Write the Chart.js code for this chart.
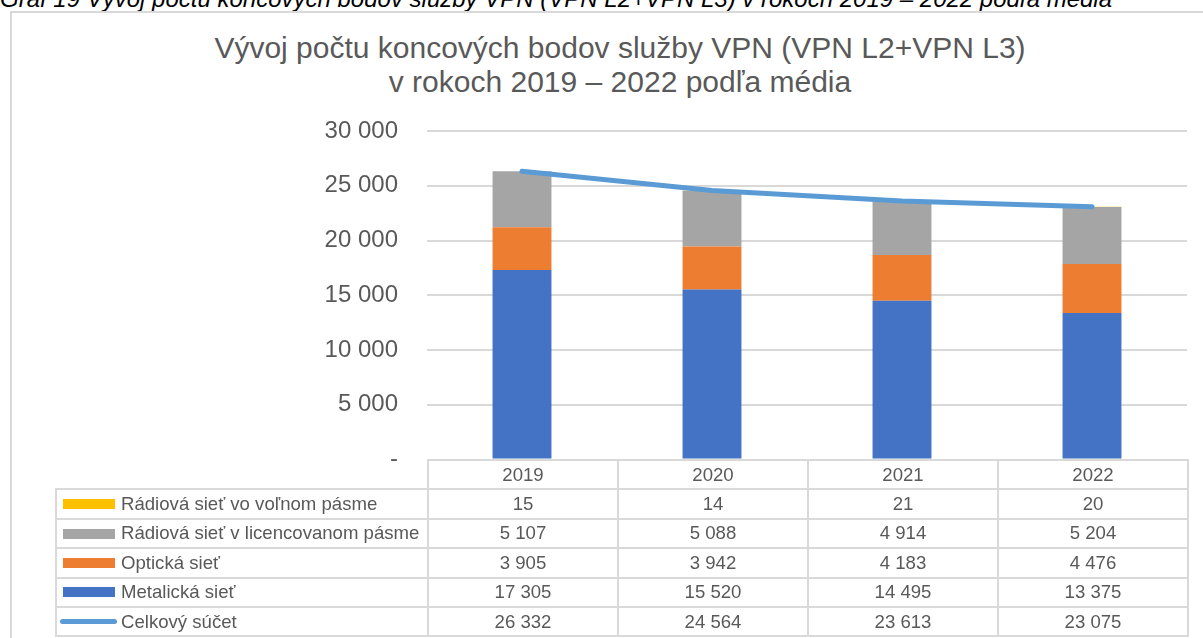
<!DOCTYPE html>
<html>
<head>
<meta charset="utf-8">
<script src="https://cdn.jsdelivr.net/npm/chart.js@4.4.1/dist/chart.umd.min.js"></script>
<style>
  html, body { margin: 0; padding: 0; background: #fff; }
  #wrap { position: relative; width: 1203px; height: 638px; overflow: hidden; font-family: "Liberation Sans", Arial, sans-serif; }
  #caption { position: absolute; left: 0; top: -13px; font-style: italic; font-size: 24px; line-height: 24px; color: #000; white-space: nowrap; }
  #frame { position: absolute; left: 10px; top: 11px; width: 1230px; height: 660px; border: 2px solid #D9D9D9; box-sizing: border-box; }
  #title { position: absolute; left: 0; width: 1240px; top: 31px; text-align: center; font-size: 30px; line-height: 34px; color: #595959; }
  #c { position: absolute; left: 0; top: 0; }
  #tbl { position: absolute; left: 55px; top: 459px; border-collapse: collapse; table-layout: fixed; font-size: 18.6px; color: #595959; }
  #tbl td { border: 2px solid #D9D9D9; height: 27.4px; padding: 0; text-align: center; white-space: nowrap; overflow: hidden; }
  #tbl td.empty { border: none; }
  #tbl td.lab { text-align: left; padding-left: 6px; }
  .sw { display: inline-block; width: 52px; height: 10px; vertical-align: middle; margin-right: 6px; position: relative; top: -1px; }
  .sw.line { height: 5px; border-radius: 3px; width: 57px; margin-left: -3px; margin-right: 4px; }
</style>
</head>
<body>
<div id="wrap">
  <div id="caption">Graf 19 Vývoj počtu koncových bodov služby VPN (VPN L2+VPN L3) v rokoch 2019 – 2022 podľa média</div>
  <div id="frame"></div>
  <div id="title">Vývoj počtu koncových bodov služby VPN (VPN L2+VPN L3)<br>v rokoch 2019 – 2022 podľa média</div>
  <canvas id="c" width="1203" height="503"></canvas>
  <table id="tbl"></table>
</div>
<script>
// ---- data ----
const years = ['2019', '2020', '2021', '2022'];
const radioFree = [15, 14, 21, 20];
const radioLicensed = [5107, 5088, 4914, 5204];
const optical = [3905, 3942, 4183, 4476];
const metallic = [17305, 15520, 14495, 13375];
const total = [26332, 24564, 23613, 23075];
const seriesNames = ['Rádiová sieť vo voľnom pásme', 'Rádiová sieť v licencovanom pásme', 'Optická sieť', 'Metalická sieť', 'Celkový súčet'];
const yTicks = [0, 5000, 10000, 15000, 20000, 25000, 30000];

const colors = { free: '#FFC000', lic: '#A5A5A5', opt: '#ED7D31', met: '#4472C4', tot: '#5B9BD5' };

function fmt(v) {
  if (v === 0) return '-';
  return String(v).replace(/\B(?=(\d{3})+(?!\d))/g, ' ');
}

const barCommon = { stack: 'bars', order: 1, categoryPercentage: 1.0, barPercentage: 0.31, borderWidth: 0 };

new Chart(document.getElementById('c'), {
  type: 'bar',
  data: {
    labels: years,
    datasets: [
      Object.assign({ label: seriesNames[3], data: metallic, backgroundColor: colors.met }, barCommon),
      Object.assign({ label: seriesNames[2], data: optical, backgroundColor: colors.opt }, barCommon),
      Object.assign({ label: seriesNames[1], data: radioLicensed, backgroundColor: colors.lic }, barCommon),
      Object.assign({ label: seriesNames[0], data: radioFree, backgroundColor: colors.free }, barCommon),
      { type: 'line', label: seriesNames[4], data: total, borderColor: colors.tot, backgroundColor: colors.tot,
        borderWidth: 5, pointRadius: 0, tension: 0, borderCapStyle: 'round', stack: 'total', order: 0, fill: false }
    ]
  },
  options: {
    responsive: false,
    animation: false,
    devicePixelRatio: 1,
    layout: { padding: { left: 0, right: 16, top: 131, bottom: 0 } },
    plugins: { legend: { display: false }, title: { display: false }, tooltip: { enabled: false } },
    scales: {
      x: { display: false, stacked: true },
      y: {
        stacked: true, min: 0, max: 30000,
        afterBuildTicks: (s) => { s.ticks = yTicks.map(v => ({ value: v })); },
        afterFit: (s) => { s.width = 427; },
        border: { display: false },
        grid: { color: '#D9D9D9', lineWidth: 2, drawTicks: false },
        ticks: { padding: 29, color: '#595959', font: { family: 'Liberation Sans', size: 24 }, callback: (v) => fmt(v) }
      }
    }
  }
});

// ---- data table ----
const tbl = document.getElementById('tbl');
const widths = [372, 190, 190, 190, 190];
const cg = document.createElement('colgroup');
widths.forEach(w => { const c = document.createElement('col'); c.style.width = w + 'px'; cg.appendChild(c); });
tbl.appendChild(cg);
const hr = document.createElement('tr');
hr.innerHTML = '<td class="empty"></td>' + years.map(y => '<td>' + y + '</td>').join('');
tbl.appendChild(hr);
const rows = [
  [seriesNames[0], radioFree, colors.free, false],
  [seriesNames[1], radioLicensed, colors.lic, false],
  [seriesNames[2], optical, colors.opt, false],
  [seriesNames[3], metallic, colors.met, false],
  [seriesNames[4], total, colors.tot, true]
];
rows.forEach(([name, vals, col, isLine]) => {
  const tr = document.createElement('tr');
  tr.innerHTML = '<td class="lab"><span class="sw' + (isLine ? ' line' : '') + '" style="background:' + col + '"></span>' + name + '</td>' +
    vals.map(v => '<td>' + fmt(v) + '</td>').join('');
  tbl.appendChild(tr);
});
</script>
</body>
</html>
